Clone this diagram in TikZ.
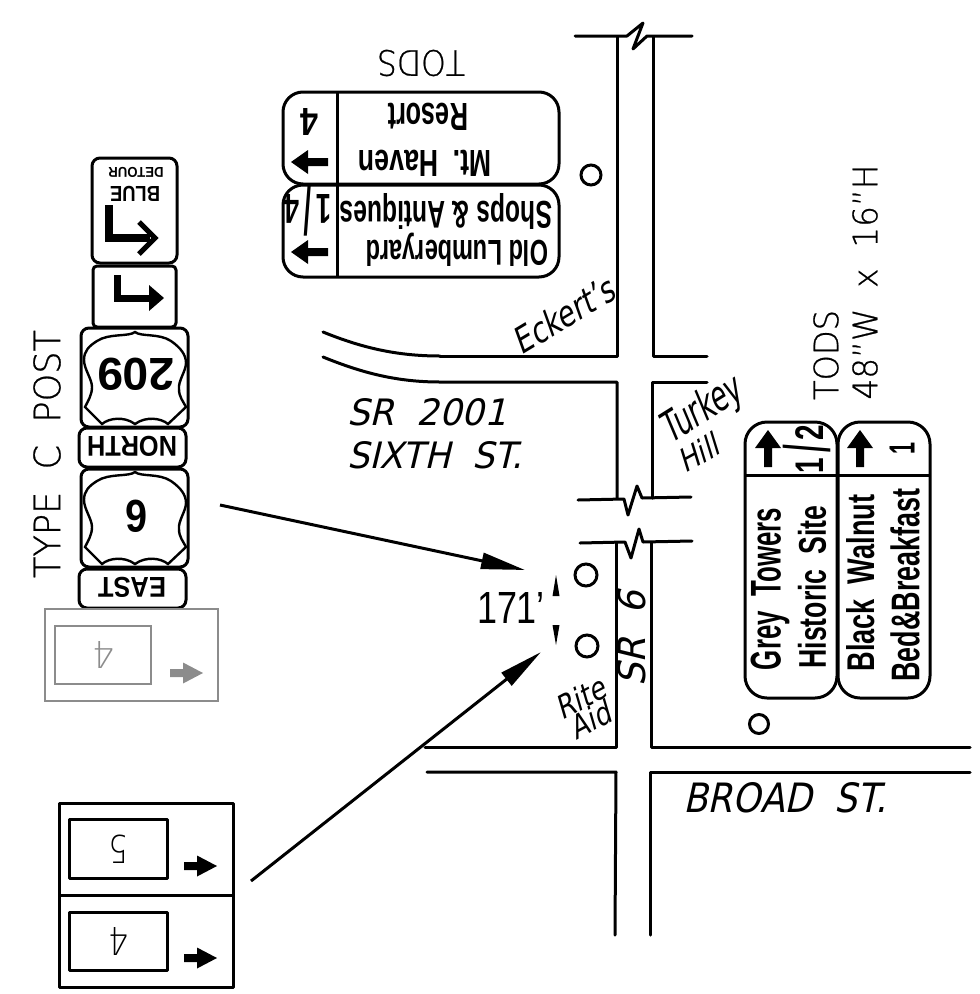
\documentclass[tikz,border=0pt]{standalone}
\usepackage{fontspec}
\usepackage{graphicx}
\usetikzlibrary{arrows.meta}
\setmainfont{Liberation Sans}
\newfontfamily\hairf{DejaVu Sans}[UprightFont=* ExtraLight]
\newfontfamily\thinf{DejaVu Sans}[UprightFont=* ExtraLight,FakeBold=0.7]
\newfontfamily\medf{Liberation Sans}
\newfontfamily\thinit{DejaVu Sans}[UprightFont=*,FakeSlant=0.25]
\newcommand{\fitb}[3]{\resizebox{#1pt}{#2pt}{\bfseries #3}}
\newcommand{\fitt}[3]{\resizebox{#1pt}{#2pt}{\thinf #3}}
\newcommand{\fitm}[3]{\resizebox{#1pt}{#2pt}{\medf #3}}
\newcommand{\fith}[3]{\resizebox{#1pt}{#2pt}{\hairf #3}}
\newcommand{\fiti}[3]{\resizebox{#1pt}{#2pt}{\thinit #3}}
\newcommand{\tallslash}{\raisebox{-.3ex}{\scalebox{1}[1.6]{/}}}
\tikzset{
  txt/.style={inner sep=0pt,outer sep=0pt},
  road/.style={line width=3pt,line join=round,line cap=round},
  panel/.style={line width=3pt,line join=round},
  graypanel/.style={line width=2pt,draw=black!45},
  pole/.style={line width=3pt},
  lead/.style={line width=3pt,-{Triangle[length=44pt,width=16pt]}},
  gtxt/.style={txt,text=black!45},
}
\newcommand{\shieldat}[2]{%
 \draw[line width=2.4pt,line join=miter,xshift=#1pt,yshift=-#2pt]
  (0,-45) .. controls (6,-40) and (24,-44) .. (36,-36)
  .. controls (46,-29) and (51,-22) .. (51,-14)
  .. controls (51,-6) and (43,4) .. (44,12)
  .. controls (44,20) and (48,24) .. (51,30)
  -- (33,47) .. controls (26,41) and (11,39) .. (0,47)
  .. controls (-11,39) and (-26,41) .. (-33,47)
  -- (-50,30) .. controls (-47,24) and (-43,18) .. (-43,10)
  .. controls (-43,2) and (-51,-8) .. (-51,-17)
  .. controls (-51,-26) and (-46,-31) .. (-38,-36)
  .. controls (-26,-44) and (-6,-40) .. (0,-45) -- cycle;}
\newcommand{\fatarrow}[3]{% x y colour: right-pointing small sign arrow
 \fill[#3] (#1,#2-4) -- (#1+13,#2-4) -- (#1+13,#2-10.5) -- (#1+33,#2) -- (#1+13,#2+10.5) -- (#1+13,#2+4) -- (#1,#2+4) -- cycle;}
\begin{document}
\begin{tikzpicture}[x=1pt,y=-1pt]
\useasboundingbox (0,0) rectangle (980,994);
% roads
\draw[road] (575,36) -- (627,36) -- (643,23) -- (633,49) -- (647,36) -- (692,36);
\draw[road] (617,37) -- (617,356) -- (440,356);
\draw[road] (653,37) -- (653,356) -- (707,356);
\draw[road] (323,332) .. controls (360,347) and (395,356) .. (440,356);
\draw[road] (323,357) .. controls (360,372) and (395,382) .. (440,382) -- (617,382) -- (617,498);
\draw[road] (707,382) -- (652,382) -- (652,498);
\draw[road] (578,500) -- (624,499) -- (628,515) -- (637,486) -- (642,498) -- (691,497);
\draw[road] (580,543) -- (625,542) -- (631,558) -- (639,529) -- (643,542) -- (692,541);
\draw[road] (616,543) -- (616,747) -- (425,747);
\draw[road] (651,543) -- (651,747) -- (970,747);
\draw[road] (427,772) -- (616,772) -- (615,935);
\draw[road] (970,772) -- (650,772) -- (650,935);
% poles
\draw[pole] (586,575) circle (11) (587,646) circle (11) (591,175) circle (10) (759,724) circle (9.5);
% road labels
\node[txt] (srA) at (427,412) {\fiti{159}{27}{SR\ \ 2001}};
\node[txt] (srB) at (435,455) {\fiti{175}{27}{SIXTH\ \ ST.}};
\node[txt] (broad) at (785,798) {\fiti{203}{30}{BROAD\ \ ST.}};
\node[txt,rotate=31] (ek) at (563,315) {\fiti{112}{27}{Eckert’s}};
\node[txt,rotate=32] (tk) at (702,411) {\fiti{88}{32}{Turkey}};
\node[txt,rotate=29] (hl) at (698,453) {\fiti{42}{24}{Hill}};
\node[txt,rotate=28] (ri) at (580,698) {\fiti{52}{24}{Rite}};
\node[txt,rotate=28] (ai) at (590,720) {\fiti{42}{24}{Aid}};
\node[txt,rotate=90] (sr6) at (632,639) {\fiti{95}{28}{SR\ \ 6}};
\node[txt] (dist) at (511,608) {\fitm{68}{31}{171’}};
\node[txt,rotate=90] (post) at (47,454) {\fitt{248}{27}{TYPE\ \ C\ \ POST}};
\node[txt,rotate=180] (todsT) at (421,63) {\fitt{88}{26}{TODS}};
\node[txt,rotate=90] (todsR) at (826,355) {\fitt{90}{25}{TODS}};
\node[txt,rotate=90] (size) at (865,282) {\fitt{235}{25}{48”W\ \ x\ \ 16”H}};
% dimension ticks
\fill (556,575) -- (559.5,596) -- (552.5,596) -- cycle;
\fill (556,645) -- (559.5,625) -- (552.5,625) -- cycle;
% leaders
\coordinate (la) at (220,505); \coordinate (lat) at (525,570);
\coordinate (lb) at (251,881); \coordinate (lbt) at (541,652);
\draw[lead] (la) -- (lat);
\draw[lead] (lb) -- (lbt);
% top TODS signs
\draw[panel,rounded corners=20pt] (283,92) rectangle (559,184);
\draw[panel,rounded corners=20pt] (283,185) rectangle (559,277);
\draw[panel] (337,92) -- (337,277);
\node[txt,rotate=180] at (425,163) {\fitb{133}{26}{Mt.\ \ Haven}};
\node[txt,rotate=180] at (428,117) {\fitb{80}{27}{Resort}};
\node[txt,rotate=180] at (457,250) {\fitb{182}{26}{Old Lumberyard}};
\node[txt,rotate=180] at (446,211) {\fitb{212}{28}{Shops \& Antiques}};
\node[txt,rotate=180] at (309,122) {\fitb{18}{27}{4}};
\node[txt,rotate=180] at (308,211) {\fitb{47}{42}{1\,\tallslash\,4}};
\foreach \yy in {162,252}
  \fill (291,\yy) -- (308,\yy-12) -- (308,\yy-4) -- (328,\yy-4) -- (328,\yy+4) -- (308,\yy+4) -- (308,\yy+12) -- cycle;
% right TODS signs
\draw[panel,rounded corners=22pt] (745,422) rectangle (837,698);
\draw[panel,rounded corners=22pt] (838,422) rectangle (930,698);
\draw[panel] (745,475) -- (930,475);
\node[txt,rotate=90] at (770,589) {\fitb{162}{30}{Grey\ \ Towers}};
\node[txt,rotate=90] at (812,587) {\fitb{163}{28}{Historic\ \ Site}};
\node[txt,rotate=90] at (861,583) {\fitb{177}{28}{Black\ \ Walnut}};
\node[txt,rotate=90] at (905,585) {\fitb{193}{29}{Bed\&Breakfast}};
\node[txt,rotate=90] at (807,449) {\fitb{48}{40}{1\,\tallslash\,2}};
\node[txt,rotate=90] at (902,448) {\fitb{12}{25}{1}};
\foreach \xx in {768,860}
  \fill (\xx,430) -- (\xx+13,448) -- (\xx+4,448) -- (\xx+4,467) -- (\xx-4,467) -- (\xx-4,448) -- (\xx-13,448) -- cycle;
% sign stack
\draw[panel,rounded corners=8pt] (92,158) rectangle (177,263);
\draw[panel,rounded corners=4pt] (93,266) rectangle (176,327);
\draw[panel,rounded corners=8pt] (81,328) rectangle (188,427);
\draw[panel,rounded corners=8pt] (79,428) rectangle (186,467);
\draw[panel,rounded corners=8pt] (81,469) rectangle (188,567);
\draw[panel,rounded corners=8pt] (79,569) rectangle (186,608);
\node[txt,rotate=180] at (136,172) {\fitb{55}{10}{DETOUR}};
\node[txt,rotate=180] at (135,194) {\fitb{50}{15}{BLUE}};
\draw[line width=8pt,line join=miter] (109,205) -- (109,238) -- (150,238);
\draw[line width=5pt,line join=miter] (139,222) -- (155,238) -- (139,254);
\draw[line width=7pt,line join=miter] (117,275) -- (117,298) -- (150,298);
\fill (164,298) -- (149,285) -- (149,311) -- cycle;
\shieldat{135}{377}
\shieldat{135}{517}
\node[txt,rotate=180] at (136,374) {\fitb{77}{32}{209}};
\node[txt,rotate=180] at (136,516) {\fitb{22}{32}{6}};
\node[txt,rotate=180] at (132,446) {\fitb{90}{20}{NORTH}};
\node[txt,rotate=180] at (132,587) {\fitb{68}{20}{EAST}};
% gray sign
\draw[graypanel] (45,609) rectangle (218,701);
\draw[graypanel] (55,626) rectangle (151,684);
\node[gtxt,rotate=180] at (103,655) {\fith{22}{27}{4}};
\fatarrow{170}{673}{black!45}
% lower signs
\draw[panel] (59,803) rectangle (233,987);
\draw[panel] (59,895) -- (233,895);
\draw[panel] (69,819) rectangle (167,878);
\draw[panel] (69,912) rectangle (167,970);
\node[txt,rotate=180] at (118,849) {\fith{20}{28}{5}};
\node[txt,rotate=180] at (118,941) {\fith{20}{28}{4}};
\fatarrow{184}{866}{black}
\fatarrow{184}{958}{black}
\end{tikzpicture}
\end{document}
